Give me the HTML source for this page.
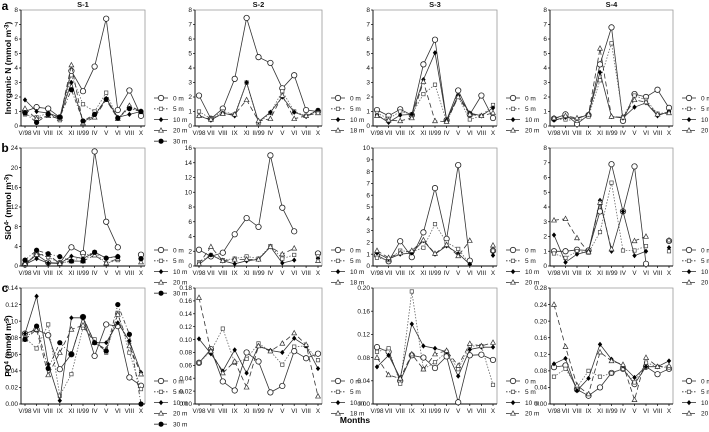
<!DOCTYPE html>
<html><head><meta charset="utf-8"><style>
body{margin:0;background:#fff;width:709px;height:427px;overflow:hidden}
svg text{font-family:"Liberation Sans",sans-serif}
</style></head><body>
<svg id="c" width="709" height="427" xmlns="http://www.w3.org/2000/svg"></svg>
<script>
const months=["V/98","VII","VIII","IX","XI","II/99","IV","V","VI","VIII","X"];
const stations=["S-1","S-2","S-3","S-4"];
const depthsS1=["0 m","5 m","10 m","20 m","30 m"];
const depthsS2=["0 m","5 m","10 m","18 m"];
const depthsS34=["0 m","5 m","10 m","20 m"];
const N=null;
// Row a: inorganic N
const nS1_0=[1.0,1.3,1.2,0.6,3.8,2.4,4.1,7.4,1.1,2.45,0.7];
const nS1_5=[0.8,0.6,0.9,0.4,3.5,1.5,1.0,2.3,0.5,1.3,1.0];
const nS1_10=[1.8,1.0,0.9,0.6,3.0,0.3,0.7,1.9,0.6,0.8,1.0];
const nS1_20=[1.2,0.5,0.7,0.5,4.2,0.2,0.6,1.8,0.5,1.4,1.0];
const nS1_30=[0.9,0.25,0.8,0.6,2.5,0.35,0.8,1.85,0.55,1.2,1.0];
const nS2_0=[2.1,0.5,1.2,3.25,7.45,4.75,4.35,2.6,3.5,1.1,1.0];
const nS2_5=[1.0,0.5,1.0,0.8,3.0,0.2,0.9,2.4,1.0,0.7,1.1];
const nS2_10=[0.7,0.4,0.9,0.7,3.0,0.3,0.95,2.0,0.95,0.65,1.1];
const nS2_18=[0.7,0.45,0.85,0.8,1.8,0.35,0.5,2.1,0.5,0.7,0.9];
const nS3_0=[1.1,0.7,1.15,0.75,4.25,5.95,0.4,2.45,0.8,2.1,0.55];
const nS3_5=[0.9,0.5,1.0,0.8,2.2,2.85,0.3,2.0,0.45,0.7,1.45];
const nS3_10=[0.75,0.25,0.75,0.8,3.2,5.05,0.4,2.1,0.9,0.7,1.25];
const nS3_20=[0.7,0.4,0.35,0.55,3.05,0.35,0.3,2.0,0.8,0.7,0.9];
const nS4_0=[0.5,0.8,0.15,0.75,4.25,6.8,0.35,2.2,2.0,2.5,1.25];
const nS4_5=[0.45,0.45,0.35,0.65,3.15,5.7,0.6,2.1,1.8,0.85,0.95];
const nS4_10=[0.4,0.6,0.5,0.8,3.7,0.65,0.55,1.3,1.6,0.7,1.0];
const nS4_20=[0.55,0.7,0.55,0.8,5.35,0.65,0.6,1.8,1.65,0.8,0.9];
// Row b: silicate
const sS1_0=[0.3,2.3,0.7,0.6,3.8,2.6,23.3,9.0,3.8,N,2.3];
const sS1_5=[0.5,2.5,1.8,0.6,1.0,2.0,2.8,0.5,1.2,N,1.5];
const sS1_10=[0.3,1.5,0.6,0.5,2.0,1.5,2.8,1.6,2.0,N,1.5];
const sS1_20=[0.5,2.3,2.3,0.5,1.0,1.0,2.2,0.6,1.5,N,0.8];
const sS1_30=[1.2,3.2,2.5,1.9,1.0,1.0,2.8,1.6,1.9,N,1.5];
const sS2_0=[2.2,1.3,1.8,4.3,6.5,5.3,15.0,7.9,4.7,N,1.7];
const sS2_5=[0.5,1.5,0.8,1.0,1.3,1.0,2.7,1.0,1.5,N,1.3];
const sS2_10=[0.2,1.5,0.7,0.3,0.7,0.9,2.6,0.4,0.8,N,1.0];
const sS2_18=[0.3,2.6,0.7,0.9,0.9,0.9,2.6,1.6,2.4,N,0.7];
const sS3_0=[0.9,0.4,2.1,0.75,2.85,6.6,2.3,8.55,0.45,N,1.3];
const sS3_5=[0.7,0.5,1.3,1.2,1.55,3.55,2.0,1.45,0.15,N,1.3];
const sS3_10=[1.1,0.6,1.0,1.1,2.15,1.0,1.7,1.05,0.15,N,0.9];
const sS3_20=[1.3,0.7,1.1,1.3,2.2,1.05,1.8,0.85,2.15,N,1.75];
const sS4_0=[1.0,1.0,1.1,1.05,3.7,6.9,3.7,6.75,0.15,N,1.7];
const sS4_5=[0.85,0.55,1.0,0.9,2.3,5.65,1.05,1.05,1.35,N,1.0];
const sS4_10=[2.1,0.25,0.8,1.0,4.45,1.0,3.7,0.7,1.0,N,1.25];
const sS4_20=[3.1,3.2,1.9,0.95,4.3,1.15,N,1.7,2.0,N,1.75];
// Row c: phosphate
const pS1_0=[0.085,0.09,0.083,0.042,0.06,0.105,0.058,0.096,0.094,0.032,0.022];
const pS1_5=[0.08,0.067,0.096,0.01,0.036,0.092,0.078,0.062,0.11,0.062,0.018];
const pS1_10=[0.085,0.13,0.048,0.004,0.104,0.104,0.074,0.074,0.098,0.076,0.038];
const pS1_20=[0.078,0.09,0.035,0.062,0.09,0.095,0.074,0.066,0.108,0.07,0.036];
const pS1_30=[0.078,0.094,0.043,0.074,0.06,0.105,0.074,0.064,0.12,0.084,0.0];
const pS2_0=[0.064,0.085,0.035,0.021,0.08,0.066,0.018,0.028,0.082,0.071,0.078];
const pS2_5=[0.064,0.082,0.117,0.064,0.07,0.094,0.082,0.061,0.089,0.09,0.068];
const pS2_10=[0.101,0.078,0.051,0.084,0.048,0.09,0.083,0.08,0.102,0.09,0.055];
const pS2_18=[0.165,0.082,0.048,0.066,0.026,0.09,0.082,0.094,0.11,0.092,0.012];
const pS3_0=[0.098,0.09,0.04,0.084,0.08,0.062,0.082,0.003,0.084,0.085,0.076];
const pS3_5=[0.09,0.096,0.035,0.194,0.06,0.072,0.09,0.06,0.1,0.1,0.033];
const pS3_10=[0.064,0.084,0.045,0.138,0.1,0.096,0.09,0.048,0.094,0.098,0.098];
const pS3_20=[0.08,0.05,0.044,0.086,0.06,0.086,0.092,0.066,0.104,0.1,0.106];
const pS4_0=[0.089,0.093,0.035,0.02,0.04,0.075,0.085,0.048,0.09,0.072,0.085];
const pS4_5=[0.066,0.085,0.04,0.08,0.066,0.074,0.085,0.052,0.1,0.09,0.088];
const pS4_10=[0.097,0.11,0.032,0.062,0.144,0.108,0.092,0.064,0.09,0.09,0.104];
const pS4_20=[0.24,0.138,0.045,0.024,0.125,0.104,0.095,0.01,0.112,0.09,0.092];
// y-axis ranges
const yMaxA=[8,8,8,8], yStepA=[1,1,1,1];
const yMaxB=[24,16,10,8], yStepB=[4,2,1,1];
const yMaxC=[0.14,0.18,0.20,0.28], yStepC=[0.02,0.02,0.04,0.04];

const svg=document.getElementById('c');
const NS='http://www.w3.org/2000/svg';
function mk(tag,attrs,parent){const e=document.createElementNS(NS,tag);for(const k in attrs)e.setAttribute(k,attrs[k]);(parent||svg).appendChild(e);return e;}
// text drawn at 10px then scaled, avoiding browser minimum font size
function txt(parent,x,y,size,anchor,content,extra){
  const s=size/10;
  const t=mk('text',Object.assign({x:0,y:0,'font-size':10,'text-anchor':anchor,fill:'#111',transform:`translate(${x} ${y}) scale(${s})`},extra||{}),parent);
  t.textContent=content;return t;
}
const colL=[21,195,373,550], colR=[145,322,497,673];
const rowT=[10,148,288], rowB=[126,266,404];
const legY=[98,250,381];
const styles=[{dash:'',mk:'circle'},{dash:'1.5,1.5',mk:'square'},{dash:'',mk:'diamond'},{dash:'5,3',mk:'triangle'},{dash:'4,2,1,2',mk:'dot'}];
function marker(g,type,x,y){
  let e;
  if(type==='circle')e=mk('circle',{cx:x,cy:y,r:2.7,fill:'#fff',stroke:'#222','stroke-width':0.8},g);
  else if(type==='square')e=mk('rect',{x:x-1.7,y:y-1.7,width:3.4,height:3.4,fill:'#fff',stroke:'#444','stroke-width':0.7},g);
  else if(type==='diamond')e=mk('path',{d:`M${x} ${y-2.6}L${x+2.2} ${y}L${x} ${y+2.6}L${x-2.2} ${y}Z`,fill:'#000'},g);
  else if(type==='triangle')e=mk('path',{d:`M${x} ${y-2.6}L${x+2.4} ${y+1.8}L${x-2.4} ${y+1.8}Z`,fill:'#fff',stroke:'#333','stroke-width':0.7},g);
  else e=mk('circle',{cx:x,cy:y,r:2.6,fill:'#000'},g);
  return e;
}
const rows=[
 {maxs:yMaxA,steps:yStepA,data:[[nS1_0,nS1_5,nS1_10,nS1_20,nS1_30],[nS2_0,nS2_5,nS2_10,nS2_18],[nS3_0,nS3_5,nS3_10,nS3_20],[nS4_0,nS4_5,nS4_10,nS4_20]],dec:0},
 {maxs:yMaxB,steps:yStepB,data:[[sS1_0,sS1_5,sS1_10,sS1_20,sS1_30],[sS2_0,sS2_5,sS2_10,sS2_18],[sS3_0,sS3_5,sS3_10,sS3_20],[sS4_0,sS4_5,sS4_10,sS4_20]],dec:0},
 {maxs:yMaxC,steps:yStepC,data:[[pS1_0,pS1_5,pS1_10,pS1_20,pS1_30],[pS2_0,pS2_5,pS2_10,pS2_18],[pS3_0,pS3_5,pS3_10,pS3_20],[pS4_0,pS4_5,pS4_10,pS4_20]],dec:2}
];
const legends=[depthsS1,depthsS2,depthsS34,depthsS34];
rows.forEach((row,ri)=>{
  for(let ci=0;ci<4;ci++){
    const L=colL[ci],R=colR[ci],T=rowT[ri],B=rowB[ri],max=row.maxs[ci],step=row.steps[ci];
    const g=mk('g',{});
    
    
    const xs=i=>L+4+i*(R-L-8)/(months.length-1);
    const ys=v=>B-(v/max)*(B-T);
    mk('path',{d:`M${L} ${T}H${R}V${B}`,fill:'none',stroke:'#999','stroke-width':0.8},g);
    const ax=mk('path',{d:`M${L} ${T}V${B}H${R}`,fill:'none',stroke:'#000','stroke-width':0.9},g);
    
    
    const nt=Math.round(max/step);
    for(let k=0;k<=nt;k++){
      const v=k*step,y=ys(v);
      mk('line',{x1:L-2,x2:L,y1:y,y2:y,stroke:'#000','stroke-width':0.7},g);
      const t=txt(g,L-3,y+2.2,6.5,'end',v.toFixed(row.dec));
      
      
    }
    months.forEach((m,i)=>{
      const x=xs(i);
      mk('line',{x1:x,x2:x,y1:B,y2:B+2,stroke:'#000','stroke-width':0.7},g);
      const t=txt(g,x,B+9,6.3,'middle',m);
      
      
    });
    row.data[ci].forEach((ser,si)=>{
      const st=styles[si];
      let d='',pen=false;
      ser.forEach((v,i)=>{if(v===null){pen=false;return;}d+=(pen?'L':'M')+xs(i).toFixed(1)+' '+ys(v).toFixed(1);pen=true;});
      const p=mk('path',{d:d,fill:'none',stroke:si===1?'#666':'#333','stroke-width':0.8,'stroke-dasharray':st.dash},g);
      
      
      ser.forEach((v,i)=>{if(v===null)return;const e=marker(g,st.mk,xs(i),ys(v));
        
        });
    });
    legends[ci].forEach((lab,si)=>{
      const st=styles[si];const y=legY[ri]+si*10.8;const lx=R+9;
      const lg=mk('g',{},g);
      
      
      mk('line',{x1:lx,x2:lx+14,y1:y,y2:y,stroke:'#333','stroke-width':0.8,'stroke-dasharray':st.dash},lg);
      marker(lg,st.mk,lx+7,y);
      txt(lg,lx+19,y+2.3,6.5,'start',lab);
    });
    if(ri===0){const t=txt(g,(L+R)/2,7,7.5,'middle',stations[ci],{'font-weight':'bold'});
      
      }
  }
});
function lbl(html,x,y,size,name,rot,bold){
  const s=size/10;
  const t=mk('text',{x:0,y:0,'font-size':10,'text-anchor':'middle','font-family':'Liberation Serif','font-weight':bold?'bold':'normal',
    transform:`translate(${x} ${y})${rot?' rotate(-90)':''} scale(${s})`});
  t.innerHTML=html;
  
  }
lbl('a',5,10,12,'panel-letter-a',false,true);
lbl('b',5,152,12,'panel-letter-b',false,true);
lbl('c',5,292,12,'panel-letter-c',false,true);
lbl('Inorganic N (mmol m<tspan dy="-3" font-size="7">-3</tspan><tspan dy="3">)</tspan>',11,68,8.5,'y-axis-title-a',true,true);
lbl('SiO<tspan dy="-3" font-size="7">4-</tspan><tspan dy="3"> (mmol m</tspan><tspan dy="-3" font-size="7">-3</tspan><tspan dy="3">)</tspan>',11,207,8.5,'y-axis-title-b',true,true);
lbl('PO<tspan dy="-3" font-size="7">4</tspan><tspan dy="3"> (mmol m</tspan><tspan dy="-3" font-size="7">-3</tspan><tspan dy="3">)</tspan>',11,346,8.5,'y-axis-title-c',true,true);
lbl('Months',355,423,8.5,'x-axis-title',false,true);
</script>
</body></html>
